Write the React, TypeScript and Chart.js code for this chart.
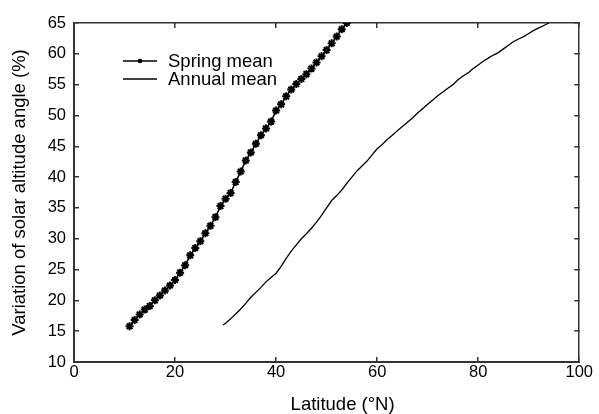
import React, { useEffect, useRef } from "react";
import { Chart, registerables } from "chart.js";

Chart.register(...registerables);

// Spring mean (latitude °N, value)
const springLat = [11, 12, 13, 14, 15, 16, 17, 18, 19, 20, 21, 22, 23, 24, 25, 26, 27, 28, 29, 30, 31, 32, 33, 34, 35, 36, 37, 38, 39, 40, 41, 42, 43, 44, 45, 46, 47, 48, 49, 50, 51, 52, 53, 54];
const springVal = [15.8, 16.8, 17.7, 18.5, 19.1, 20.0, 20.8, 21.6, 22.4, 23.3, 24.5, 25.7, 27.3, 28.5, 29.6, 30.9, 32.1, 33.5, 35.3, 36.5, 37.4, 39.2, 40.9, 42.7, 44.0, 45.4, 46.8, 47.9, 49.0, 50.8, 51.8, 53.1, 54.2, 55.1, 55.9, 56.7, 57.6, 58.6, 59.6, 60.6, 61.7, 62.8, 64.0, 65.0];

// Annual mean (latitude °N, value)
const annualLat = [29.5, 30, 31, 32, 33, 34, 35, 36, 37, 38, 39, 40, 41, 42, 43, 44, 45, 46, 47, 48, 49, 50, 51, 52, 53, 54, 55, 56, 57, 58, 59, 60, 61, 62, 63, 64, 65, 66, 67, 68, 69, 70, 71, 72, 73, 74, 75, 76, 77, 78, 79, 80, 81, 82, 83, 84, 85, 86, 87, 88, 89, 90, 91, 92, 93, 94];
const annualVal = [16.0, 16.3, 17.0, 17.8, 18.6, 19.5, 20.5, 21.3, 22.1, 23.0, 23.7, 24.4, 25.5, 26.8, 28.0, 29.0, 30.0, 30.8, 31.7, 32.7, 33.8, 35.0, 36.2, 37.0, 37.9, 39.0, 40.0, 41.0, 41.8, 42.6, 43.6, 44.6, 45.3, 46.1, 46.8, 47.5, 48.2, 48.9, 49.6, 50.4, 51.1, 51.8, 52.5, 53.2, 53.8, 54.4, 55.0, 55.8, 56.4, 56.9, 57.6, 58.2, 58.8, 59.3, 59.8, 60.2, 60.8, 61.4, 62.0, 62.4, 62.8, 63.3, 63.8, 64.2, 64.6, 65.0];

const seriesNames = ["Spring mean", "Annual mean"];
const xTitle = "Latitude (°N)";
const yTitle = "Variation of solar altitude angle (%)";
const xMin = 0, xMax = 100, xStep = 20;
const yMin = 10, yMax = 65, yStep = 5;

const FONT = "Arial, 'Liberation Sans', Helvetica, sans-serif";
const AXIS = "#333333";

const annotations = {
  id: "annotations",
  afterDraw(chart: any) {
    const { ctx, chartArea } = chart;
    const x0 = chartArea.left + 49;
    const rows = [chartArea.top + 38, chartArea.top + 56];
    ctx.save();
    ctx.strokeStyle = "#000";
    ctx.fillStyle = "#000";
    ctx.lineWidth = 1.3;
    rows.forEach((y: number, i: number) => {
      ctx.beginPath();
      ctx.moveTo(x0, y);
      ctx.lineTo(x0 + 34, y);
      ctx.stroke();
      if (i === 0) {
        ctx.beginPath();
        ctx.arc(x0 + 17, y, 2.3, 0, Math.PI * 2);
        ctx.fill();
      }
      ctx.font = `18.5px ${FONT}`;
      ctx.textBaseline = "middle";
      ctx.textAlign = "left";
      ctx.fillText(seriesNames[i], x0 + 45, y + 0.5);
    });
    // x-axis title (sits right of centre in the reference)
    ctx.font = `18.5px ${FONT}`;
    ctx.textAlign = "center";
    ctx.textBaseline = "middle";
    ctx.fillText(xTitle, (chartArea.left + chartArea.right) / 2 + 16, chart.height - 9);
    ctx.restore();
  },
};

export default function App() {
  const ref = useRef<HTMLCanvasElement | null>(null);
  useEffect(() => {
    if (!ref.current) return;
    const spring = springLat.map((x, i) => ({ x, y: springVal[i] }));
    const annual = annualLat.map((x, i) => ({ x, y: annualVal[i] }));
    const grid = (w: number) => ({
      display: true,
      drawOnChartArea: false,
      drawTicks: true,
      tickLength: -5,
      color: AXIS,
      lineWidth: w,
    });
    const chart = new Chart(ref.current, {
      type: "scatter",
      data: {
        datasets: [
          {
            label: seriesNames[0],
            data: spring,
            showLine: true,
            borderColor: "#000",
            backgroundColor: "#000",
            borderWidth: 1.6,
            pointStyle: "star",
            pointRadius: 4,
            pointBorderWidth: 2,
            pointBorderColor: "#000",
            xAxisID: "x",
            yAxisID: "y",
          },
          {
            label: seriesNames[1],
            data: annual,
            showLine: true,
            borderColor: "#000",
            borderWidth: 1.3,
            pointRadius: 0,
            xAxisID: "x",
            yAxisID: "y",
          },
        ],
      },
      options: {
        animation: false,
        responsive: false,
        layout: { padding: { left: 0, right: 17, top: 23, bottom: 0 } },
        plugins: { legend: { display: false }, tooltip: { enabled: false } },
        scales: {
          x: {
            type: "linear",
            position: "bottom",
            min: xMin,
            max: xMax,
            ticks: { stepSize: xStep, color: "#000", font: { family: FONT, size: 16.5 }, padding: 6, autoSkip: false, maxRotation: 0 },
            grid: grid(1.5),
            border: { display: true, color: AXIS, width: 2 },
            title: { display: false },
            afterFit: (s: any) => { s.height = 52; },
          },
          x2: {
            type: "linear",
            position: "top",
            min: xMin,
            max: xMax,
            ticks: { stepSize: xStep, display: false },
            grid: grid(1.5),
            border: { display: true, color: AXIS, width: 1.5 },
            afterFit: (s: any) => { s.height = 0; },
          },
          y: {
            type: "linear",
            position: "left",
            min: yMin,
            max: yMax,
            ticks: { stepSize: yStep, color: "#000", font: { family: FONT, size: 16.5 }, padding: 13, autoSkip: false },
            grid: grid(1.5),
            border: { display: true, color: AXIS, width: 2 },
            title: { display: true, text: yTitle, color: "#000", font: { family: FONT, size: 18.5 }, padding: { top: 9, bottom: 0 } },
            afterFit: (s: any) => { s.width = 74; },
          },
          y2: {
            type: "linear",
            position: "right",
            min: yMin,
            max: yMax,
            ticks: { stepSize: yStep, display: false },
            grid: grid(1.5),
            border: { display: true, color: AXIS, width: 1.5 },
            afterFit: (s: any) => { s.width = 0; },
          },
        },
      } as any,
      plugins: [annotations],
    });
    return () => chart.destroy();
  }, []);
  return (
    <div style={{ position: "absolute", left: 0, top: 0, width: 599, height: 414, background: "#fff" }}>
      <canvas ref={ref} width={599} height={414} style={{ display: "block" }} />
    </div>
  );
}
